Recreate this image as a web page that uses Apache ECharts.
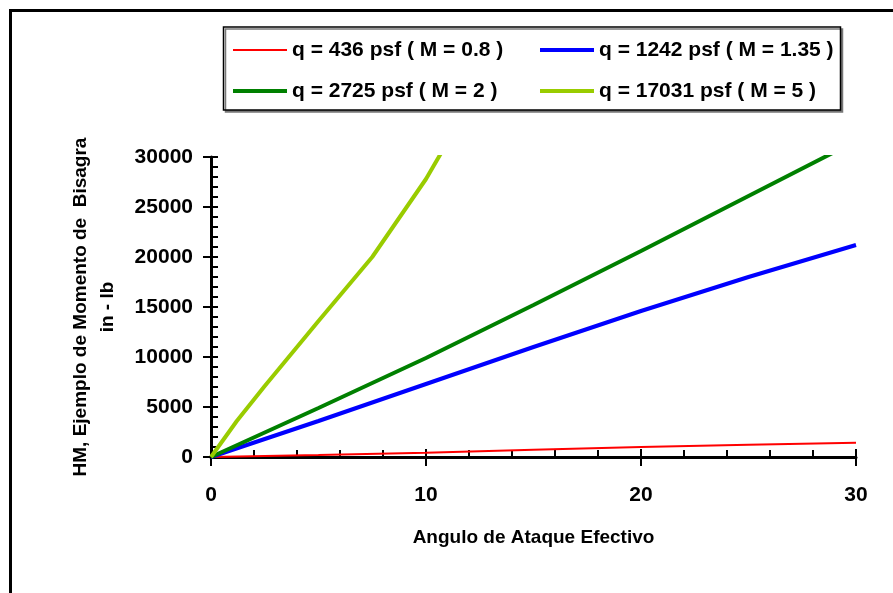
<!DOCTYPE html>
<html>
<head>
<meta charset="utf-8">
<script src="https://cdn.jsdelivr.net/npm/echarts@6/dist/echarts.min.js"></script>
<style>
  html, body { margin: 0; padding: 0; background: #fff; }
  #chart { width: 893px; height: 593px; }
</style>
</head>
<body>
<div id="chart"></div>
<script>
// Hinge moment vs. effective angle of attack, for four dynamic pressures
const seriesNames = [
  'q = 436 psf ( M = 0.8 )',
  'q = 1242 psf ( M = 1.35 )',
  'q = 2725 psf ( M = 2 )',
  'q = 17031 psf ( M = 5 )'
];
const seriesColors = ['#ff0000', '#0000ff', '#008000', '#99cc00'];

// [angle, HM in-lb]
const q436 = [[0, 0], [5, 200], [10, 430], [15, 720], [20, 1000], [25, 1230], [30, 1430]];
const q1242 = [[0, 0], [5, 3600], [10, 7300], [15, 11000], [20, 14600], [25, 18000], [30, 21200]];
const q2725 = [[0, 0], [5, 4900], [10, 9900], [15, 15200], [20, 20600], [25, 26100], [30, 31600]];
const q17031 = [[0, 0], [1.2, 3600], [2.5, 7100], [5, 13600], [7.5, 20000], [10, 27800], [11, 31500]];

const xTicks = { min: 0, max: 30, interval: 10 };
const yTicks = { min: 0, max: 30000, interval: 5000 };

const FONT = '"Liberation Sans", Arial, sans-serif';

const chart = echarts.init(document.getElementById('chart'), null, { renderer: 'canvas' });

const seriesData = [q436, q1242, q2725, q17031];
const widths = [2, 4, 4, 4];

// legend slots: [left, top] for each series entry
const legendSlots = [[233, 39], [540, 39], [233, 80], [540, 80]];

const legendText = { fontFamily: FONT, fontWeight: 'bold', fontSize: 21, color: '#000', lineHeight: 22 };

const option = {
  backgroundColor: '#ffffff',
  animation: false,
  grid: { left: 211, right: 37, top: 157, bottom: 136, containLabel: false },
  legend: seriesNames.map((n, i) => ({
    data: [{ name: n, icon: 'rect' }],
    left: legendSlots[i][0], top: legendSlots[i][1],
    padding: 0,
    itemWidth: 54, itemHeight: widths[i],
    textStyle: legendText,
    selectedMode: false
  })),
  xAxis: [
    {
      type: 'value', min: xTicks.min, max: xTicks.max, interval: xTicks.interval,
      name: 'Angulo de Ataque Efectivo', nameLocation: 'middle', nameGap: 71,
      nameTextStyle: { fontFamily: FONT, fontWeight: 'bold', fontSize: 19, color: '#000' },
      axisLine: { onZero: false, lineStyle: { color: '#000', width: 3 } },
      axisTick: { inside: true, length: 8, lineStyle: { color: '#000', width: 2 } },
      minorTick: { show: true, splitNumber: 5, length: 7, lineStyle: { color: '#000', width: 2 } },
      axisLabel: { margin: 28, fontFamily: FONT, fontWeight: 'bold', fontSize: 21, color: '#000',
        formatter: v => String(v) },
      splitLine: { show: false }
    },
    {
      type: 'value', min: xTicks.min, max: xTicks.max, interval: xTicks.interval, position: 'bottom',
      axisLine: { show: false, onZero: false },
      axisTick: { inside: false, length: 9, lineStyle: { color: '#000', width: 2 } },
      axisLabel: { show: false }, splitLine: { show: false }
    }
  ],
  yAxis: [
    {
      type: 'value', min: yTicks.min, max: yTicks.max, interval: yTicks.interval,
      name: 'HM, Ejemplo de Momento de  Bisagra\nin - lb', nameLocation: 'middle', nameGap: 90,
      nameTextStyle: { fontFamily: FONT, fontWeight: 'bold', fontSize: 19, color: '#000', lineHeight: 27 },
      axisLine: { onZero: false, lineStyle: { color: '#000', width: 3 } },
      axisTick: { inside: true, length: 7, lineStyle: { color: '#000', width: 2 } },
      minorTick: { show: true, splitNumber: 5, length: 7, lineStyle: { color: '#000', width: 2 } },
      axisLabel: { margin: 18, fontFamily: FONT, fontWeight: 'bold', fontSize: 21, color: '#000',
        formatter: v => String(v) },
      splitLine: { show: false }
    },
    {
      type: 'value', min: yTicks.min, max: yTicks.max, interval: yTicks.interval, position: 'left',
      axisLine: { show: false, onZero: false },
      axisTick: { inside: false, length: 8, lineStyle: { color: '#000', width: 2 } },
      axisLabel: { show: false }, splitLine: { show: false }
    }
  ],
  series: seriesData.map((d, i) => ({
    name: seriesNames[i],
    type: 'line',
    xAxisIndex: 0, yAxisIndex: 0,
    data: d,
    symbol: 'none',
    clip: true,
    color: seriesColors[i],
    lineStyle: { color: seriesColors[i], width: widths[i] },
    z: 3 + i
  })),
  graphic: [
    {
      type: 'rect', silent: true, z: -1,
      shape: { x: 10.5, y: 10.5, width: 1000, height: 1000 },
      style: { fill: 'none', stroke: '#000', lineWidth: 3 }
    },
    {
      type: 'rect', silent: true, z: -1,
      shape: { x: 223.5, y: 27, width: 617, height: 83 },
      style: { fill: '#fff', stroke: '#000', lineWidth: 1.5, shadowColor: '#777', shadowOffsetX: 2, shadowOffsetY: 2, shadowBlur: 0 }
    }
  ]
};

chart.setOption(option);
</script>
</body>
</html>
